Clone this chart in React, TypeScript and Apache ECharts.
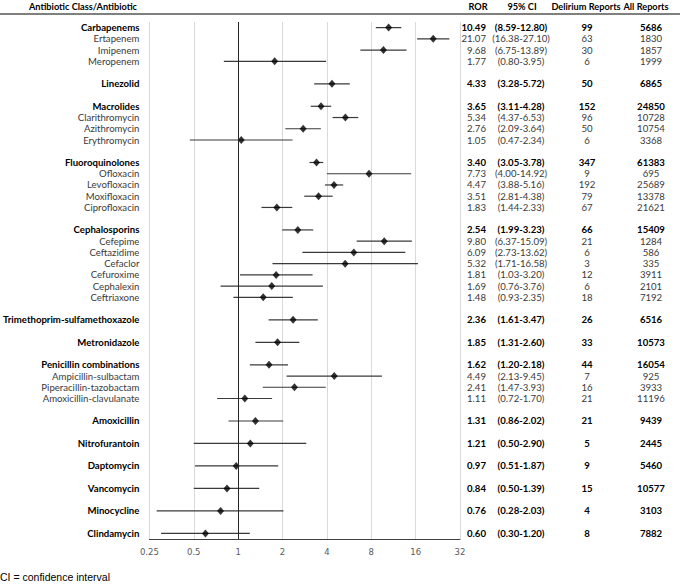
import React, { useEffect, useRef } from "react";
import * as echarts from "echarts";

const names = [
  "Carbapenems", "Ertapenem", "Imipenem", "Meropenem", "",
  "Linezolid", "",
  "Macrolides", "Clarithromycin", "Azithromycin", "Erythromycin", "",
  "Fluoroquinolones", "Ofloxacin", "Levofloxacin", "Moxifloxacin", "Ciprofloxacin", "",
  "Cephalosporins", "Cefepime", "Ceftazidime", "Cefaclor", "Cefuroxime", "Cephalexin", "Ceftriaxone", "",
  "Trimethoprim-sulfamethoxazole", "",
  "Metronidazole", "",
  "Penicillin combinations", "Ampicillin-sulbactam", "Piperacillin-tazobactam", "Amoxicillin-clavulanate", "",
  "Amoxicillin", "",
  "Nitrofurantoin", "",
  "Daptomycin", "",
  "Vancomycin", "",
  "Minocycline", "",
  "Clindamycin",
];

const isClass = [
  1, 0, 0, 0, 0,
  1, 0,
  1, 0, 0, 0, 0,
  1, 0, 0, 0, 0, 0,
  1, 0, 0, 0, 0, 0, 0, 0,
  1, 0,
  1, 0,
  1, 0, 0, 0, 0,
  1, 0,
  1, 0,
  1, 0,
  1, 0,
  1, 0,
  1,
];

const ror = [
  10.49, 21.07, 9.68, 1.77, null,
  4.33, null,
  3.65, 5.34, 2.76, 1.05, null,
  3.40, 7.73, 4.47, 3.51, 1.83, null,
  2.54, 9.80, 6.09, 5.32, 1.81, 1.69, 1.48, null,
  2.36, null,
  1.85, null,
  1.62, 4.49, 2.41, 1.11, null,
  1.31, null,
  1.21, null,
  0.97, null,
  0.84, null,
  0.76, null,
  0.60,
];

const ciLow = [
  8.59, 16.38, 6.75, 0.80, null,
  3.28, null,
  3.11, 4.37, 2.09, 0.47, null,
  3.05, 4.00, 3.88, 2.81, 1.44, null,
  1.99, 6.37, 2.73, 1.71, 1.03, 0.76, 0.93, null,
  1.61, null,
  1.31, null,
  1.20, 2.13, 1.47, 0.72, null,
  0.86, null,
  0.50, null,
  0.51, null,
  0.50, null,
  0.28, null,
  0.30,
];

const ciHigh = [
  12.80, 27.10, 13.89, 3.95, null,
  5.72, null,
  4.28, 6.53, 3.64, 2.34, null,
  3.78, 14.92, 5.16, 4.38, 2.33, null,
  3.23, 15.09, 13.62, 16.58, 3.20, 3.76, 2.35, null,
  3.47, null,
  2.60, null,
  2.18, 9.45, 3.93, 1.70, null,
  2.02, null,
  2.90, null,
  1.87, null,
  1.39, null,
  2.03, null,
  1.20,
];

const deliriumReports = [
  99, 63, 30, 6, null,
  50, null,
  152, 96, 50, 6, null,
  347, 9, 192, 79, 67, null,
  66, 21, 6, 3, 12, 6, 18, null,
  26, null,
  33, null,
  44, 7, 16, 21, null,
  21, null,
  5, null,
  9, null,
  15, null,
  4, null,
  8,
];

const allReports = [
  5686, 1830, 1857, 1999, null,
  6865, null,
  24850, 10728, 10754, 3368, null,
  61383, 695, 25689, 13378, 21621, null,
  15409, 1284, 586, 335, 3911, 2101, 7192, null,
  6516, null,
  10573, null,
  16054, 925, 3933, 11196, null,
  9439, null,
  2445, null,
  5460, null,
  10577, null,
  3103, null,
  7882,
];

const xTicks = [0.25, 0.5, 1, 2, 4, 8, 16, 32];

const FONT = "Lato, 'Open Sans', sans-serif";

function fmt2(v: number | null) {
  return v == null ? "" : v.toFixed(2);
}

export default function App() {
  const ref = useRef<HTMLDivElement>(null);

  useEffect(() => {
    if (!ref.current) return;
    const chart = echarts.init(ref.current, null, { renderer: "svg" });

    const idx = names.map((_, i) => String(i));
    const rich = {
      b: { fontFamily: FONT, fontSize: 9.6, fontWeight: "bold", color: "#000" },
      n: { fontFamily: FONT, fontSize: 9.6, fontWeight: "normal", color: "#3a3a3a" },
    };
    const styled = (arr: string[]) => (v: string) => {
      const i = Number(v);
      const t = arr[i];
      if (!t) return "";
      return isClass[i] ? `{b|${t}}` : `{n|${t}}`;
    };

    const rorText = ror.map((v) => fmt2(v));
    const ciText = ciLow.map((v, i) =>
      v == null ? "" : `(${fmt2(v)}-${fmt2(ciHigh[i])})`
    );
    const delText = deliriumReports.map((v) => (v == null ? "" : String(v)));
    const allText = allReports.map((v) => (v == null ? "" : String(v)));

    const rightAxis = (arr: string[], margin: number, align: string) => ({
      type: "category",
      position: "right",
      inverse: true,
      data: idx,
      axisLine: { show: false },
      axisTick: { show: false },
      splitLine: { show: false },
      axisLabel: {
        interval: 0,
        margin,
        align,
        formatter: styled(arr),
        rich,
      },
    });

    const barData: any[] = [];
    const pointData: any[] = [];
    names.forEach((_, i) => {
      if (ror[i] != null) {
        barData.push([ciLow[i], ciHigh[i], i]);
        pointData.push([ror[i], i]);
      }
    });

    const headerStyle = (text: string, x: number, align: string) => ({
      type: "text",
      x,
      y: 6,
      style: {
        text,
        fontFamily: FONT,
        fontSize: 9.2,
        fontWeight: "bold",
        fill: "#000",
        align,
        verticalAlign: "middle",
      },
    });

    chart.setOption({
      animation: false,
      grid: { left: 147, right: 220, top: 22, bottom: 45, containLabel: false },
      xAxis: {
        type: "log",
        logBase: 2,
        min: 0.25,
        max: 32,
        interval: 1,
        axisLine: { show: true, lineStyle: { color: "#404040", width: 1 } },
        axisTick: { show: false },
        splitLine: { show: true, lineStyle: { color: "#d9d9d9", width: 1 } },
        axisLabel: {
          margin: 8,
          fontFamily: "'DejaVu Sans', sans-serif",
          fontSize: 8.5,
          color: "#595959",
          formatter: (v: number) => {
            const t = xTicks.find((k) => Math.abs(k - v) < 1e-6);
            return t != null ? String(t) : "";
          },
        },
      },
      yAxis: [
        {
          type: "category",
          inverse: true,
          data: idx,
          axisLine: { show: false },
          axisTick: { show: false },
          splitLine: { show: false },
          axisLabel: {
            interval: 0,
            margin: 10,
            align: "right",
            formatter: styled(names),
            rich,
          },
        },
        rightAxis(rorText, 26, "right"),
        rightAxis(ciText, 61, "center"),
        rightAxis(delText, 127, "center"),
        rightAxis(allText, 191, "center"),
      ],
      series: [
        {
          type: "custom",
          yAxisIndex: 0,
          encode: { x: [0, 1], y: 2 },
          data: barData,
          renderItem: (params: any, api: any) => {
            const a = api.coord([api.value(0), api.value(2)]);
            const b = api.coord([api.value(1), api.value(2)]);
            return {
              type: "line",
              shape: { x1: a[0], y1: a[1], x2: b[0], y2: b[1] },
              style: { stroke: "#3a3a3a", lineWidth: 1.2 },
            };
          },
          z: 3,
        },
        {
          type: "scatter",
          yAxisIndex: 0,
          symbol: "diamond",
          symbolSize: [7, 8],
          itemStyle: { color: "#000" },
          data: pointData,
          z: 4,
          markLine: {
            silent: true,
            symbol: ["none", "none"],
            label: { show: false },
            lineStyle: { color: "#262626", width: 1, type: "solid" },
            data: [{ xAxis: 1 }],
          },
        },
      ],
      graphic: [
        {
          type: "line",
          shape: { x1: 0, y1: 14, x2: 680, y2: 14 },
          style: { stroke: "#000", lineWidth: 1 },
        },
        headerStyle("Antibiotic Class/Antibiotic", 137, "right"),
        headerStyle("ROR", 478, "center"),
        headerStyle("95% CI", 522, "center"),
        headerStyle("Delirium Reports", 586, "center"),
        headerStyle("All Reports", 646, "center"),
        {
          type: "text",
          x: 0,
          y: 577,
          style: {
            text: "CI = confidence interval",
            fontFamily: "'Liberation Sans', Arial, sans-serif",
            fontSize: 10.5,
            fill: "#000",
            align: "left",
            verticalAlign: "middle",
          },
        },
      ],
    });

    return () => chart.dispose();
  }, []);

  return (
    <div
      ref={ref}
      style={{ position: "absolute", left: 0, top: 0, width: 680, height: 584 }}
    />
  );
}
